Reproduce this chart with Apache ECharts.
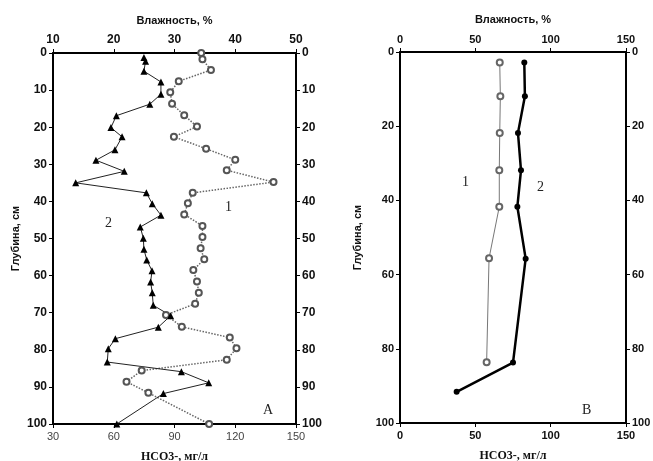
<!DOCTYPE html>
<html>
<head>
<meta charset="utf-8">
<script src="https://cdn.jsdelivr.net/npm/echarts@6/dist/echarts.min.js"></script>
<style>
  html, body { margin: 0; padding: 0; background: #fff; }
  #chart { width: 653px; height: 461px; }
</style>
</head>
<body>
<div id="chart"></div>
<script>
// panel A: curve 1 (circles, dotted) - moisture, top axis
var depthA1 = [0, 1.7, 4.6, 7.6, 10.6, 13.7, 16.8, 19.8, 22.6, 25.8, 28.8, 31.6, 34.8, 37.7, 40.5, 43.5, 46.6, 49.6, 52.6, 55.6, 58.5, 61.6, 64.6, 67.6, 70.6, 73.8, 76.7, 79.6, 82.7, 85.6, 88.6, 91.6, 100]
var moistA1 = [34.4, 34.6, 36.0, 30.7, 29.3, 29.6, 31.6, 33.7, 29.9, 35.2, 40.0, 38.6, 46.3, 33.0, 32.2, 31.6, 34.6, 34.6, 34.3, 34.9, 33.1, 33.7, 34.0, 33.4, 28.6, 31.2, 39.1, 40.2, 38.6, 24.6, 22.1, 25.7, 35.7]
// panel A: curve 2 (triangles, solid) - HCO3-, bottom axis
var depthA2 = [1.2, 2.2, 4.9, 7.8, 11.1, 13.8, 16.9, 20.1, 22.6, 26.1, 28.9, 31.9, 35.0, 37.7, 40.6, 43.7, 46.9, 49.9, 52.9, 55.8, 58.7, 61.7, 64.6, 68.0, 70.8, 73.9, 77.0, 79.7, 83.3, 85.9, 88.9, 91.8, 100]
var hco3A2 = [74.9, 75.7, 74.9, 83.3, 83.3, 77.8, 61.3, 58.6, 64.1, 60.6, 51.2, 65.2, 41.2, 76.1, 79.0, 83.3, 73.1, 74.6, 74.9, 76.3, 78.9, 78.2, 79.0, 79.5, 88.1, 82.0, 60.8, 57.3, 56.8, 93.4, 106.9, 84.5, 61.5]

// panel B
var depthB1 = [2.8, 11.9, 21.8, 31.9, 41.7, 55.6, 83.6]
var moistB1 = [66.2, 66.6, 66.2, 65.9, 65.9, 59.1, 57.5]
var depthB2 = [2.8, 11.9, 21.8, 31.9, 41.7, 55.7, 83.7, 91.6]
var hco3B2 = [82.5, 82.9, 78.3, 80.3, 77.9, 83.4, 75.0, 37.6]

var tickFont = 'Liberation Sans'
var serifFont = 'Liberation Serif'

var zip = function (xs, ys) {
  return xs.map(function (x, i) { return [x, ys[i]] })
}

var xAxisBase = function (grid, pos, min, max, interval, fontSize, bold, color, name, nameFont, nameGap) {
  return {
    type: 'value',
    gridIndex: grid,
    position: pos,
    min: min,
    max: max,
    interval: interval,
    name: name,
    nameLocation: 'middle',
    nameGap: nameGap,
    nameTextStyle: {
      fontFamily: nameFont,
      fontWeight: 'bold',
      fontSize: pos === 'top' ? 11 : 12,
      color: '#111'
    },
    axisLine: { show: true, onZero: false, lineStyle: { color: '#000', width: 2 } },
    axisTick: { show: true, length: 4, lineStyle: { color: '#000', width: 1 } },
    splitLine: { show: false },
    axisLabel: {
      margin: 7,
      fontFamily: tickFont,
      fontSize: fontSize,
      fontWeight: bold ? 'bold' : 'normal',
      color: color
    }
  }
}

var yAxisBase = function (grid, pos, interval, fontSize, name, nameGap) {
  return {
    type: 'value',
    gridIndex: grid,
    position: pos,
    inverse: true,
    min: 0,
    max: 100,
    interval: interval,
    name: name,
    nameLocation: 'middle',
    nameGap: nameGap,
    nameRotate: 90,
    nameTextStyle: {
      fontFamily: tickFont,
      fontWeight: 'bold',
      fontSize: 11,
      color: '#111'
    },
    axisLine: { show: true, onZero: false, lineStyle: { color: '#000', width: 2 } },
    axisTick: { show: true, length: 4, lineStyle: { color: '#000', width: 1 } },
    splitLine: { show: false },
    axisLabel: {
      margin: 6,
      fontFamily: tickFont,
      fontSize: fontSize,
      fontWeight: 'bold',
      color: '#111'
    }
  }
}

var chart = echarts.init(document.getElementById('chart'), null, {renderer: 'canvas'})

var option = {
  animation: false,
  backgroundColor: '#fff',
  grid: [
    { left: 53, top: 53, width: 243, height: 371, outerBoundsMode: 'none' },
    { left: 400, top: 52, width: 226, height: 371, outerBoundsMode: 'none' }
  ],
  xAxis: [
    xAxisBase(0, 'top', 10, 50, 10, 12, true, '#111', 'Влажность, %', tickFont, 27),
    xAxisBase(0, 'bottom', 30, 150, 30, 11, false, '#444', 'HCO3-, мг/л', serifFont, 27),
    xAxisBase(1, 'top', 0, 150, 50, 11, true, '#111', 'Влажность, %', tickFont, 27),
    xAxisBase(1, 'bottom', 0, 150, 50, 11, true, '#111', 'HCO3-, мг/л', serifFont, 27)
  ],
  yAxis: [
    yAxisBase(0, 'left', 10, 12, 'Глубина, см', 32),
    yAxisBase(0, 'right', 10, 12, '', 0),
    yAxisBase(1, 'left', 20, 11, 'Глубина, см', 37),
    yAxisBase(1, 'right', 20, 11, '', 0)
  ],
  series: [
    {
      name: '1',
      type: 'line',
      xAxisIndex: 0,
      yAxisIndex: 0,
      data: zip(moistA1, depthA1),
      symbol: 'emptyCircle',
      symbolSize: 6,
      itemStyle: { color: '#555', borderWidth: 1 },
      lineStyle: { color: '#666', width: 1.5, type: 'dotted' }
    },
    {
      name: '2',
      type: 'line',
      xAxisIndex: 1,
      yAxisIndex: 0,
      data: zip(hco3A2, depthA2),
      symbol: 'triangle',
      symbolSize: 7,
      itemStyle: { color: '#000' },
      lineStyle: { color: '#222', width: 1 }
    },
    {
      name: '1',
      type: 'line',
      xAxisIndex: 2,
      yAxisIndex: 2,
      data: zip(moistB1, depthB1),
      symbol: 'emptyCircle',
      symbolSize: 6,
      itemStyle: { color: '#666', borderWidth: 1 },
      lineStyle: { color: '#777', width: 1 }
    },
    {
      name: '2',
      type: 'line',
      xAxisIndex: 3,
      yAxisIndex: 2,
      data: zip(hco3B2, depthB2),
      symbol: 'circle',
      symbolSize: 6,
      itemStyle: { color: '#000' },
      lineStyle: { color: '#000', width: 2.5 }
    }
  ],
  graphic: [
    { type: 'text', left: 225, top: 200, style: { text: '1', font: '14px "Liberation Serif"', fill: '#222' } },
    { type: 'text', left: 105, top: 216, style: { text: '2', font: '14px "Liberation Serif"', fill: '#222' } },
    { type: 'text', left: 263, top: 403, style: { text: 'А', font: '14px "Liberation Serif"', fill: '#222' } },
    { type: 'text', left: 462, top: 175, style: { text: '1', font: '14px "Liberation Serif"', fill: '#222' } },
    { type: 'text', left: 537, top: 180, style: { text: '2', font: '14px "Liberation Serif"', fill: '#222' } },
    { type: 'text', left: 582, top: 403, style: { text: 'В', font: '14px "Liberation Serif"', fill: '#222' } }
  ]
}

chart.setOption(option, true)
</script>
</body>
</html>
